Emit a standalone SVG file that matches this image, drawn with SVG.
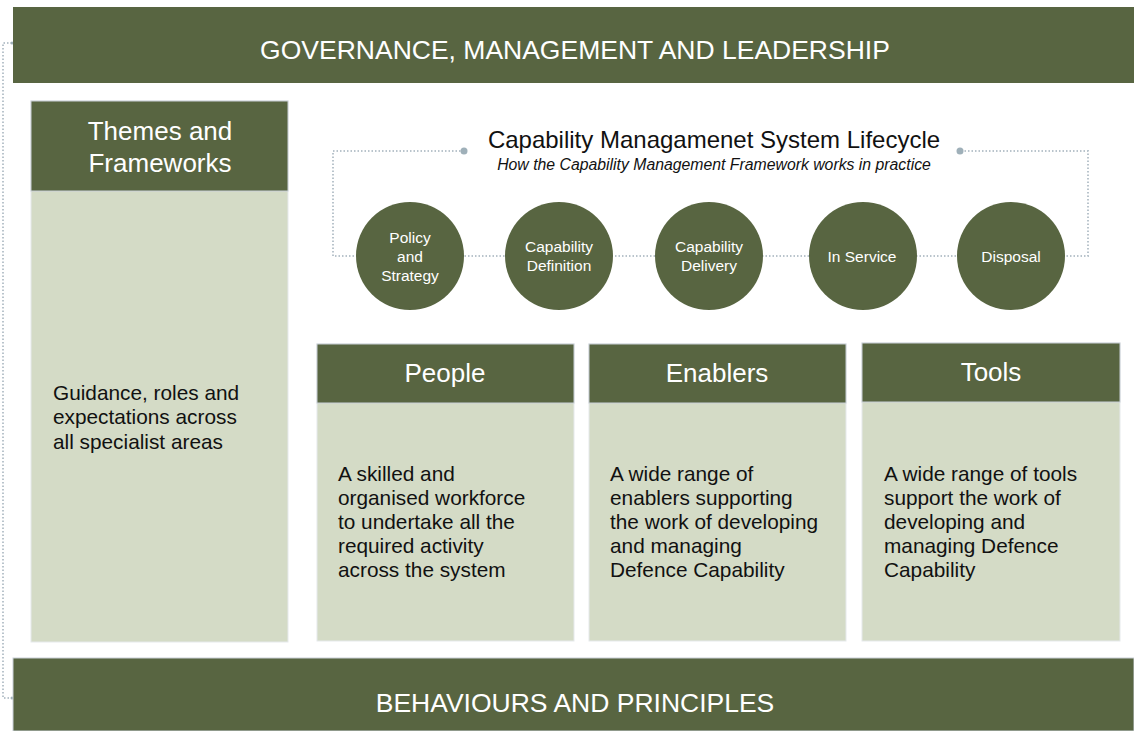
<svg xmlns="http://www.w3.org/2000/svg" width="1134" height="731" viewBox="0 0 1134 731">
  <defs>
    <style>
      .dark { fill: #586541; }
      .light { fill: #d4dbc6; stroke: #e6e9ec; stroke-width: 1; }
      .hdr { fill: #586541; stroke: #c9d0d8; stroke-width: 1; }
      .band { font-family: "Liberation Sans", Arial, sans-serif; font-size: 26.5px; fill: #ffffff; text-anchor: middle; }
      .head { font-family: "Liberation Sans", Arial, sans-serif; font-size: 26px; fill: #ffffff; text-anchor: middle; }
      .circ { font-family: "Liberation Sans", Arial, sans-serif; font-size: 15.5px; fill: #ffffff; text-anchor: middle; }
      .body { font-family: "Liberation Sans", Arial, sans-serif; font-size: 20.8px; fill: #111111; }
      .dots { fill: none; stroke: #b9c4cc; stroke-width: 2; stroke-dasharray: 1.5 2; }
      .end { fill: #9fb0b9; }
    </style>
  </defs>

  <rect width="1134" height="731" fill="#ffffff"/>

  <!-- connectors -->
  <g id="connectors">
    <!-- outer loop on the left between the two bands -->
    <path class="dots" d="M12,43 H3 V698 H12" stroke="#9aa3ab" stroke-width="1.5"/>
    <circle class="end" cx="12" cy="43" r="1.5"/>
    <circle class="end" cx="12" cy="698" r="1.5"/>
    <!-- lifecycle loop -->
    <path class="dots" d="M464,151 H333 V256 H1088 V151 H960"/>
    <circle class="end" cx="464" cy="151" r="3.5"/>
    <circle class="end" cx="960" cy="151" r="3.5"/>
  </g>

  <!-- top band -->
  <g id="governance">
    <rect class="dark" x="13" y="7" width="1121" height="76"/>
    <text class="band" x="575" y="59">GOVERNANCE, MANAGEMENT AND LEADERSHIP</text>
  </g>

  <!-- bottom band -->
  <g id="behaviours">
    <rect class="dark" x="13" y="658" width="1121" height="73" stroke="#c9d0d8" stroke-width="1"/>
    <text class="band" x="575" y="712">BEHAVIOURS AND PRINCIPLES</text>
  </g>

  <!-- themes column -->
  <g id="themes">
    <rect class="light" x="31" y="101" width="257" height="541"/>
    <rect class="hdr" x="31" y="101" width="257" height="90"/>
    <text class="head" x="160" y="140">Themes and</text>
    <text class="head" x="160" y="172">Frameworks</text>
    <text class="body" x="53" y="400">Guidance, roles and</text>
    <text class="body" x="53" y="424">expectations across</text>
    <text class="body" x="53" y="449">all specialist areas</text>
  </g>

  <!-- lifecycle title -->
  <g id="lifecycle-title">
    <text x="714" y="148" font-family="Liberation Sans, Arial, sans-serif" font-size="24" fill="#111111" text-anchor="middle">Capability Managamenet System Lifecycle</text>
    <text x="714" y="170" font-family="Liberation Sans, Arial, sans-serif" font-size="15.8" font-style="italic" fill="#111111" text-anchor="middle">How the Capability Management Framework works in practice</text>
  </g>

  <!-- lifecycle stages -->
  <g id="policy">
    <circle class="dark" cx="410" cy="256" r="54"/>
    <text class="circ" x="410" y="243">Policy</text>
    <text class="circ" x="410" y="262">and</text>
    <text class="circ" x="410" y="281">Strategy</text>
  </g>
  <g id="definition">
    <circle class="dark" cx="559" cy="256" r="54"/>
    <text class="circ" x="559" y="252">Capability</text>
    <text class="circ" x="559" y="271">Definition</text>
  </g>
  <g id="delivery">
    <circle class="dark" cx="709" cy="256" r="54"/>
    <text class="circ" x="709" y="252">Capability</text>
    <text class="circ" x="709" y="271">Delivery</text>
  </g>
  <g id="in-service">
    <circle class="dark" cx="863" cy="256" r="54"/>
    <text class="circ" x="862" y="262">In Service</text>
  </g>
  <g id="disposal">
    <circle class="dark" cx="1011" cy="256" r="54"/>
    <text class="circ" x="1011" y="262">Disposal</text>
  </g>

  <!-- people -->
  <g id="people">
    <rect class="light" x="317" y="344" width="257" height="297"/>
    <rect class="hdr" x="317" y="344" width="257" height="59"/>
    <text class="head" x="445" y="382">People</text>
    <text class="body" x="338" y="481">A skilled and</text>
    <text class="body" x="338" y="505">organised workforce</text>
    <text class="body" x="338" y="529">to undertake all the</text>
    <text class="body" x="338" y="553">required activity</text>
    <text class="body" x="338" y="577">across the system</text>
  </g>

  <!-- enablers -->
  <g id="enablers">
    <rect class="light" x="589" y="344" width="257" height="297"/>
    <rect class="hdr" x="589" y="344" width="257" height="59"/>
    <text class="head" x="717" y="382">Enablers</text>
    <text class="body" x="610" y="481">A wide range of</text>
    <text class="body" x="610" y="505">enablers supporting</text>
    <text class="body" x="610" y="529">the work of developing</text>
    <text class="body" x="610" y="553">and managing</text>
    <text class="body" x="610" y="577">Defence Capability</text>
  </g>

  <!-- tools -->
  <g id="tools">
    <rect class="light" x="862" y="343" width="258" height="298"/>
    <rect class="hdr" x="862" y="343" width="258" height="59"/>
    <text class="head" x="991" y="381">Tools</text>
    <text class="body" x="884" y="481">A wide range of tools</text>
    <text class="body" x="884" y="505">support the work of</text>
    <text class="body" x="884" y="529">developing and</text>
    <text class="body" x="884" y="553">managing Defence</text>
    <text class="body" x="884" y="577">Capability</text>
  </g>
</svg>
